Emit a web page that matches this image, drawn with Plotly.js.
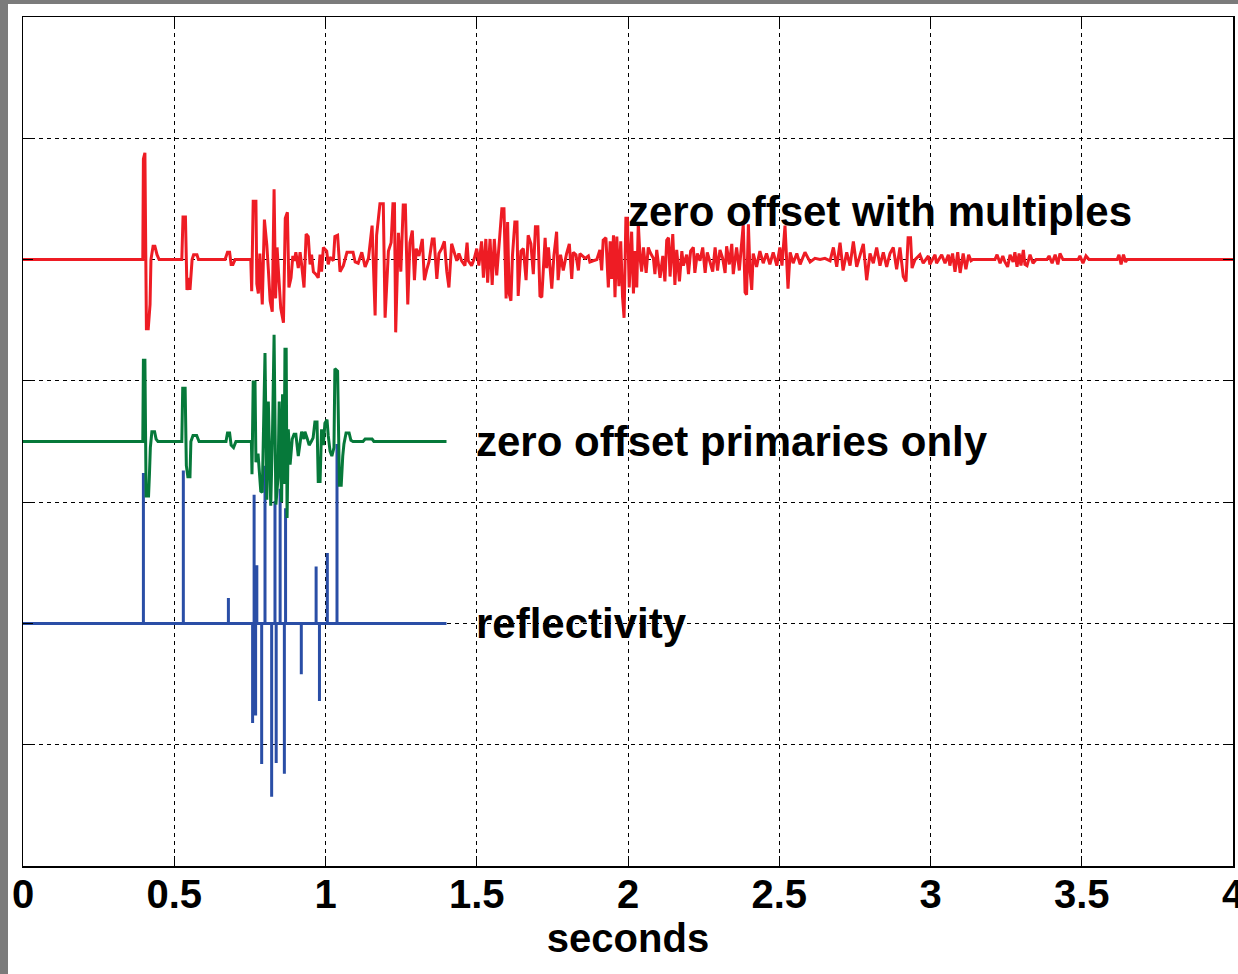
<!DOCTYPE html>
<html>
<head>
<meta charset="utf-8">
<script src="https://cdn.plot.ly/plotly-3.0.1.min.js"></script>
<style>
  html, body { margin: 0; padding: 0; background: #7b7b7b; }
  #chart { position: absolute; left: 8px; top: 4px; width: 1230px; height: 970px; background: #ffffff; }
</style>
</head>
<body>
<div id="chart"></div>
<script>
// Reflectivity series: spike times (s) and reflection coefficients
const reflT    = [0.398, 0.530, 0.679, 0.759, 0.764, 0.769, 0.773, 0.789, 0.800, 0.822, 0.833, 0.837, 0.850, 0.864, 0.868, 0.920, 0.969, 0.980, 1.006, 1.038];
const reflCoef = [1.24, 1.26, 0.21, -0.82, 1.06, -0.76, 0.48, -1.16, 1.30, -1.43, 1.01, -1.15, 1.11, -1.24, 0.95, -0.42, 0.47, -0.64, 0.58, 1.48];

// Zero-offset trace, primaries only
const primT = [0, 0.396, 0.398, 0.403, 0.407, 0.415, 0.418, 0.421, 0.426, 0.435, 0.440, 0.446,
  0.525, 0.528, 0.536, 0.540, 0.545, 0.552, 0.555, 0.562, 0.574, 0.582,
  0.671, 0.676, 0.683, 0.688, 0.696, 0.704,
  0.755, 0.757, 0.761, 0.767, 0.770, 0.777, 0.786, 0.791, 0.800, 0.806, 0.811, 0.819, 0.825, 0.830,
  0.836, 0.843, 0.847, 0.855, 0.858, 0.863, 0.866, 0.870, 0.873, 0.877, 0.883, 0.890, 0.896, 0.902,
  0.910, 0.916, 0.921, 0.929, 0.932, 0.939, 0.946, 0.953, 0.959, 0.965, 0.972, 0.976, 0.982, 0.987,
  0.993, 0.998, 1.005, 1.009, 1.015, 1.021, 1.028, 1.031, 1.040, 1.046, 1.052, 1.057, 1.061, 1.068,
  1.078, 1.084, 1.091, 1.124, 1.131, 1.154, 1.160, 1.400];
const primAmp = [0, 0, 0.67, 0.67, -0.45, -0.45, -0.27, -0.05, 0.08, 0.08, 0.02, 0,
  0, 0.44, 0.44, -0.20, -0.29, -0.29, 0, 0.05, 0.05, 0,
  0, 0.07, 0.07, -0.03, -0.05, 0,
  0, -0.27, 0.49, 0.49, -0.17, -0.10, -0.41, -0.42, 0.73, -0.48, 0.33, -0.53, 0.10, 0.88,
  -0.52, -0.30, 0.33, -0.50, 0.39, -0.35, 0.76, 0.76, -0.63, 0.10, -0.19, 0.02, 0.06, 0.06,
  -0.12, -0.03, 0.08, 0.02, 0.08, 0.03, -0.03, 0.00, 0.03, 0.16, 0.16, -0.33, -0.33, 0.10,
  -0.03, 0.15, 0.18, 0.05, -0.08, -0.12, -0.05, 0.60, 0.58, -0.36, -0.36, -0.12, -0.02, 0.07,
  0.07, 0.01, 0, 0, 0.02, 0.02, 0, 0];

// Zero-offset trace with multiples
const multT = [0, 0.396, 0.398, 0.403, 0.408, 0.414, 0.420, 0.423, 0.430, 0.436, 0.443, 0.450,
  0.525, 0.529, 0.537, 0.542, 0.549, 0.552, 0.559, 0.564, 0.575, 0.580,
  0.668, 0.676, 0.683, 0.688, 0.694, 0.701,
  0.753, 0.756, 0.761, 0.770, 0.773, 0.778, 0.783, 0.791, 0.798, 0.806, 0.811, 0.817, 0.824, 0.830,
  0.835, 0.840, 0.845, 0.852, 0.861, 0.867, 0.874, 0.879, 0.886, 0.892, 0.897, 0.902, 0.910, 0.916,
  0.921, 0.929, 0.936, 0.943, 0.949, 0.954, 0.960, 0.968, 0.976, 0.982, 0.987, 0.993, 1.004, 1.009,
  1.015, 1.026, 1.031, 1.040, 1.048, 1.059, 1.071, 1.091, 1.098, 1.108, 1.120, 1.131, 1.142,
  1.154, 1.164, 1.169, 1.180, 1.191, 1.197, 1.208, 1.217, 1.223, 1.228, 1.232, 1.241, 1.249, 1.257,
  1.264, 1.272, 1.279, 1.287, 1.294, 1.300, 1.309, 1.320, 1.327, 1.335, 1.342, 1.353, 1.359, 1.368,
  1.375, 1.384, 1.393, 1.401, 1.408, 1.417, 1.426, 1.434, 1.441, 1.450, 1.461, 1.468, 1.472, 1.483,
  1.492, 1.500, 1.507, 1.516, 1.522, 1.530, 1.536, 1.544, 1.551, 1.558, 1.566, 1.571, 1.583, 1.590,
  1.597, 1.602, 1.607, 1.613, 1.618, 1.626, 1.633, 1.637, 1.646, 1.654, 1.663, 1.670, 1.679, 1.687,
  1.694, 1.702, 1.709, 1.715, 1.726, 1.731, 1.737, 1.748, 1.755, 1.764, 1.769, 1.777, 1.786, 1.797,
  1.806, 1.814, 1.819, 1.828, 1.836, 1.841, 1.850, 1.858, 1.869, 1.874, 1.885, 1.897, 1.907, 1.913,
  1.918, 1.927, 1.935, 1.941, 1.946, 1.952, 1.957, 1.963, 1.970, 1.976, 1.982, 1.987, 1.993, 1.998,
  2.004, 2.012, 2.018, 2.023, 2.029, 2.034, 2.040, 2.045, 2.051, 2.060, 2.067, 2.073, 2.084, 2.089,
  2.095, 2.106, 2.115, 2.122, 2.128, 2.134, 2.139, 2.148, 2.155, 2.161, 2.170, 2.178, 2.183, 2.194,
  2.200, 2.207, 2.216, 2.221, 2.229, 2.238, 2.247, 2.255, 2.262, 2.271, 2.280, 2.288, 2.296, 2.304,
  2.313, 2.321, 2.326, 2.335, 2.343, 2.348, 2.359, 2.368, 2.376, 2.381, 2.387, 2.392, 2.398, 2.403,
  2.409, 2.414, 2.425, 2.436, 2.447, 2.458, 2.469, 2.480, 2.492, 2.502, 2.509, 2.519, 2.529, 2.536,
  2.546, 2.558, 2.569, 2.585, 2.602, 2.618, 2.635, 2.651, 2.668, 2.679, 2.690, 2.701, 2.711, 2.723,
  2.734, 2.745, 2.756, 2.767, 2.778, 2.789, 2.800, 2.811, 2.822, 2.833, 2.844, 2.855, 2.866, 2.877,
  2.888, 2.899, 2.910, 2.919, 2.926, 2.934, 2.939, 2.949, 2.965, 2.976, 2.993, 2.998, 3.015, 3.020,
  3.037, 3.048, 3.059, 3.064, 3.073, 3.081, 3.090, 3.098, 3.108, 3.117, 3.126, 3.134, 3.140,
  3.213, 3.220, 3.230, 3.239, 3.246, 3.255, 3.263, 3.273, 3.279, 3.286, 3.293, 3.299, 3.307, 3.312,
  3.319, 3.329, 3.339, 3.349, 3.385, 3.392, 3.402, 3.412, 3.421, 3.428, 3.438,
  3.488, 3.494, 3.504, 3.514, 3.524, 3.617, 3.623, 3.630, 3.638, 3.645, 3.650, 4.0];
const multAmp = [0, 0, 0.83, 0.88, -0.57, -0.57, -0.37, 0, 0.11, 0.11, 0.04, 0,
  0, 0.35, 0.35, -0.25, -0.15, -0.25, 0, 0.04, 0.04, 0,
  0, 0.06, 0.06, -0.04, -0.04, 0,
  0, -0.26, 0.48, 0.48, -0.20, -0.28, 0.05, -0.37, 0.33, 0.12, -0.08, -0.34, -0.43, 0.58,
  -0.32, 0.10, -0.12, -0.40, -0.52, 0.34, 0.39, -0.23, -0.15, 0.03, -0.01, 0.06, -0.07, 0.06,
  -0.04, -0.23, 0.21, 0.19, -0.04, 0.04, -0.10, -0.12, -0.15, 0.04, -0.10, 0.10, 0.07, -0.04,
  0.02, -0.01, 0.19, 0.20, -0.10, -0.05, 0.06, 0.06, -0.02, -0.03, 0.06, -0.06, 0.01,
  0.28, -0.46, 0.20, 0.46, 0.46, -0.48, 0.07, 0.14, 0.46, 0.46, -0.60, 0.22, -0.10, 0.45,
  0.45, -0.37, 0.14, 0.24, -0.17, 0.09, 0.03, 0.17, -0.17, -0.08, -0.02, 0.17, 0.17, -0.16,
  0.05, 0.09, 0.15, -0.10, -0.23, 0.13, 0.05, -0.01, 0.05, -0.01, -0.05, 0.14, -0.01, -0.05,
  0.01, 0.09, -0.05, 0.15, -0.15, 0.17, -0.19, 0.17, -0.21, 0.17, -0.13, 0.02, 0.42, 0.42,
  -0.32, 0.31, -0.28, -0.34, 0.03, 0.31, 0.31, -0.30, 0.07, 0.09, -0.17, 0.20, 0.13, -0.12,
  0.27, 0.27, -0.30, -0.31, 0.18, -0.07, 0.10, -0.24, 0.03, 0.23, -0.17, 0.04, -0.09, 0.05,
  0.13, -0.16, 0.06, 0.04, -0.09, 0.05, 0.03, 0.01, 0.03, -0.02, -0.01, 0.00, 0.08, -0.09,
  0.16, 0.18, -0.23, 0.15, -0.16, 0.20, -0.31, 0.19, -0.22, 0.15, -0.31, -0.48, 0.34, 0.34,
  -0.23, 0.23, -0.28, 0.07, -0.23, 0.30, 0.01, -0.10, 0.10, -0.11, 0.10, 0.06, 0.01, -0.12,
  0.08, -0.15, 0.03, -0.18, 0.16, 0.18, -0.14, 0.21, -0.21, 0.08, -0.18, 0.07, -0.05, 0.04,
  -0.12, 0.07, 0.10, -0.11, 0.05, -0.01, 0.10, -0.11, 0.06, -0.01, -0.10, 0.10, -0.09, 0.08,
  0.01, -0.11, 0.11, -0.04, 0.13, -0.12, 0.10, -0.09, 0.12, 0.29, -0.27, -0.29, 0.29, -0.08,
  -0.25, 0.05, -0.06, 0.07, -0.03, 0.05, -0.04, 0.06, -0.05, 0.10, -0.05, 0.28, -0.24, 0.06,
  -0.03, 0.05, -0.04, 0.06, -0.02, 0.01, 0.00, 0.01, -0.01, 0.10, -0.06, 0.14, -0.09, 0.06,
  -0.05, 0.15, -0.06, 0.04, 0.13, -0.17, 0.05, -0.03, 0.10, -0.05, 0.06, -0.06, 0.05, 0.10,
  -0.08, 0.10, -0.14, -0.18, 0.18, 0.18, -0.07, 0.00, 0.04, -0.03, 0.03, -0.04, 0.04, -0.03,
  0.04, -0.03, 0.04, -0.05, 0.05, -0.10, 0.06, -0.11, 0.05, -0.08, 0.04, -0.01, 0,
  0, 0.04, -0.03, 0.03, -0.02, -0.06, 0.04, -0.02, 0.06, -0.06, 0.05, -0.05, 0.08, -0.04,
  -0.05, 0.04, -0.03, 0, 0, 0.03, -0.03, 0.04, -0.04, 0.05, 0,
  0, 0.03, -0.03, 0.03, 0, 0, 0.04, -0.04, 0.04, -0.02, 0, 0];

// Vertical offsets that stack the three traces
const traceOffsets = { reflectivity: 2, primaries: 3.5, multiples: 5 };
const reflEnd = 1.4;

// Spike (stem) path for the reflectivity series
const reflX = [0], reflY = [traceOffsets.reflectivity];
reflT.forEach((t, i) => {
  reflX.push(t, t, t);
  reflY.push(traceOffsets.reflectivity, traceOffsets.reflectivity + reflCoef[i], traceOffsets.reflectivity);
});
reflX.push(reflEnd); reflY.push(traceOffsets.reflectivity);

const shift = (arr, off) => arr.map(v => v + off);

const lineW = 3;
const traces = [
  { x: reflX, y: reflY, mode: 'lines', line: { color: '#2a4ea6', width: lineW }, hoverinfo: 'skip' },
  { x: primT, y: shift(primAmp, traceOffsets.primaries), mode: 'lines', line: { color: '#06793a', width: lineW }, hoverinfo: 'skip' },
  { x: multT, y: shift(multAmp, traceOffsets.multiples), mode: 'lines', line: { color: '#ee1c24', width: lineW }, hoverinfo: 'skip' }
];

const fontFamily = 'Liberation Sans, Arial, sans-serif';
const axisFont = { family: fontFamily, size: 40, color: '#000000', weight: 'bold' };
const noteFont = { family: fontFamily, size: 42, color: '#000000', weight: 'bold' };

const layout = {
  width: 1230, height: 970,
  margin: { l: 15, r: 5, t: 13, b: 108 },
  paper_bgcolor: '#ffffff', plot_bgcolor: '#ffffff',
  showlegend: false,
  xaxis: {
    range: [0, 4], dtick: 0.5, tick0: 0,
    showgrid: true, gridcolor: '#000000', gridwidth: 1, griddash: '4px,4px',
    zeroline: false, showline: true, linecolor: '#000000', linewidth: 1.5, mirror: 'ticks',
    ticks: 'inside', ticklen: 10, tickcolor: '#000000',
    tickfont: axisFont, ticklabelstandoff: -8, ticklabeloverflow: 'allow',
    title: { text: 'seconds', font: axisFont, standoff: 6 }
  },
  yaxis: {
    range: [0, 7], dtick: 1, tick0: 0,
    showgrid: true, gridcolor: '#000000', gridwidth: 1, griddash: '4px,4px',
    zeroline: false, showline: true, linecolor: '#000000', linewidth: 1.5, mirror: 'ticks',
    ticks: 'inside', ticklen: 10, tickcolor: '#000000',
    showticklabels: false
  },
  annotations: [
    { x: 2.0, y: 5.4, text: 'zero offset with multiples', xanchor: 'left', yanchor: 'middle', xshift: -2, showarrow: false, font: noteFont },
    { x: 1.5, y: 3.5, text: 'zero offset primaries only', xanchor: 'left', yanchor: 'middle', xshift: -3, showarrow: false, font: noteFont },
    { x: 1.5, y: 2.0, text: 'reflectivity', xanchor: 'left', yanchor: 'middle', xshift: -3, showarrow: false, font: noteFont }
  ]
};

Plotly.newPlot('chart', traces, layout, { staticPlot: true, displayModeBar: false });
</script>
</body>
</html>
